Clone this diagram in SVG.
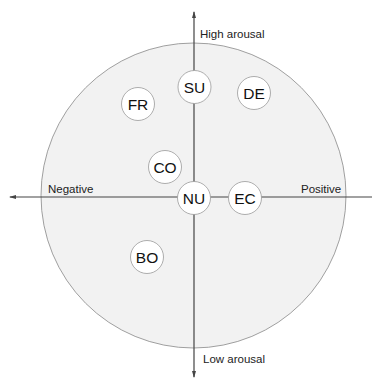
<svg xmlns="http://www.w3.org/2000/svg" width="372" height="378" viewBox="0 0 372 378">
<style>
.axis{stroke:#444;stroke-width:1.2;fill:none}
.node circle{fill:#fff;stroke:#999;stroke-width:0.8}
.node text{font-family:"Liberation Sans",Arial,sans-serif;font-size:15.5px;fill:#111;text-anchor:middle;dominant-baseline:central}
.lbl{font-family:"Liberation Sans",Arial,sans-serif;font-size:11.5px;fill:#222}
</style>
<defs>
<marker id="ah" markerWidth="7" markerHeight="5" refX="6" refY="2.5" orient="auto" markerUnits="userSpaceOnUse">
<path d="M0,0.5 L7,2.5 L0,4.5 Z" fill="#444"/>
</marker>
</defs>
<rect width="372" height="378" fill="#fff"/>
<circle id="field" cx="193.5" cy="195.5" r="152.5" fill="#f2f2f2" stroke="#888" stroke-width="0.8"/>
<g id="connectors">
<line class="axis" x1="194" y1="198" x2="194" y2="12" marker-end="url(#ah)"/>
<line class="axis" x1="194" y1="198" x2="194" y2="377" marker-end="url(#ah)"/>
<line class="axis" x1="194" y1="197" x2="10" y2="197" marker-end="url(#ah)"/>
<line class="axis" x1="194" y1="197" x2="372" y2="197"/>
</g>
<text class="lbl" x="200" y="38">High arousal</text>
<text class="lbl" x="203" y="363">Low arousal</text>
<text class="lbl" x="48" y="193">Negative</text>
<text class="lbl" x="301" y="193">Positive</text>
<g id="SU" class="node"><circle cx="194.5" cy="87" r="16.5"/><text x="194.5" y="87">SU</text></g>
<g id="DE" class="node"><circle cx="254" cy="93" r="16.5"/><text x="254" y="93">DE</text></g>
<g id="FR" class="node"><circle cx="138" cy="104" r="16.5"/><text x="138" y="104">FR</text></g>
<g id="CO" class="node"><circle cx="165" cy="167" r="16.5"/><text x="165" y="167">CO</text></g>
<g id="NU" class="node"><circle cx="194" cy="198" r="16.5"/><text x="194" y="198">NU</text></g>
<g id="EC" class="node"><circle cx="245" cy="198" r="16.5"/><text x="245" y="198">EC</text></g>
<g id="BO" class="node"><circle cx="147" cy="257" r="16.5"/><text x="147" y="257">BO</text></g>
</svg>
